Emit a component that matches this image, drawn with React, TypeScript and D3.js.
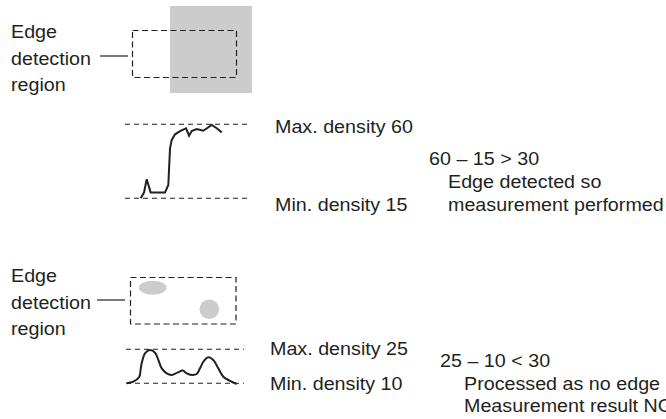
import React from "react";
import * as d3 from "d3";

// Top example: density profile across the edge (x in % of region width, density)
const topProfileX = [12.9, 15.6, 17.8, 21.0, 32.8, 35.5, 36.9, 38.3, 41.0, 45.1, 50.0, 52.5, 54.7, 58.8, 64.2, 71.1, 75.2, 79.3];
const topProfileD = [15, 18.6, 26.6, 18.6, 18.6, 23.1, 45.4, 50.5, 53.9, 55.9, 57.6, 53.1, 55.9, 57.1, 56.1, 59.6, 57.6, 55.1];
const topMin = 15;
const topMax = 60;

// Bottom example: density profile with smudges, no edge
const botProfileX = [0.6, 6.2, 11.3, 12.5, 13.3, 16.1, 20.3, 24.6, 27.4, 30.3, 34.5, 38.7, 43.5, 48.1, 51.4, 55.7, 59.9, 62.7, 65.5, 69.7, 74.0, 78.2, 82.5, 88.1, 93.8];
const botProfileD = [10.0, 10.7, 12.9, 16.6, 18.8, 23.2, 24.7, 23.5, 20.3, 16.6, 14.4, 13.7, 14.7, 15.6, 14.4, 13.7, 14.1, 16.6, 19.5, 21.5, 20.3, 16.6, 12.9, 11.1, 9.7];
const botMin = 10;
const botMax = 25;

const regionLabel = ["Edge", "detection", "region"];
const topTexts = {
  max: `Max. density ${topMax}`,
  min: `Min. density ${topMin}`,
  formula: "60 \u2013 15 > 30",
  note: ["Edge detected so", "measurement performed"],
};
const botTexts = {
  max: `Max. density ${botMax}`,
  min: `Min. density ${botMin}`,
  formula: "25 \u2013 10 < 30",
  note: ["Processed as no edge", "Measurement result NG"],
};

const FONT = "'Liberation Sans', Arial, Helvetica, sans-serif";
const TXT = "#231f20";
const FS = 18.5;
const SX = 1.065;

function T({ x, y, children }: { x: number; y: number; children: React.ReactNode }) {
  return (
    <text
      transform={`translate(${x},${y}) scale(${SX},1)`}
      fontFamily={FONT}
      fontSize={FS}
      fill={TXT}
    >
      {children}
    </text>
  );
}

export default function App() {
  // Top scales
  const tx = d3.scaleLinear().domain([0, 100]).range([125, 247]);
  const ty = d3.scaleLinear().domain([topMin, topMax]).range([198.3, 124.3]);
  const topLine = d3
    .line<number>()
    .x((_, i) => tx(topProfileX[i]))
    .y((d) => ty(d))
    .curve(d3.curveLinear)(topProfileD) as string;

  // Bottom scales
  const bx = d3.scaleLinear().domain([0, 100]).range([126, 244]);
  const by = d3.scaleLinear().domain([botMin, botMax]).range([383.3, 349.3]);
  const botLine = d3
    .line<number>()
    .x((_, i) => bx(botProfileX[i]))
    .y((d) => by(d))
    .curve(d3.curveCatmullRom.alpha(0.5))(botProfileD) as string;

  const labelLines = (baseY: number) =>
    regionLabel.map((s, i) => (
      <T key={s} x={11} y={baseY + i * 26.7}>
        {s}
      </T>
    ));

  return (
    <svg
      width={666}
      height={419}
      style={{ position: "absolute", left: 0, top: 0, background: "#fff" }}
    >
      <rect x={0} y={0} width={666} height={419} fill="#fff" />

      {/* ===== Top example ===== */}
      <rect x={170} y={6} width={82} height={87} fill="#cccccc" />
      <rect
        x={132.5}
        y={30.5}
        width={104}
        height={47}
        fill="none"
        stroke="#231f20"
        strokeWidth={1.2}
        strokeDasharray="6,3.5"
      />
      <line x1={100} y1={56} x2={128} y2={56} stroke="#231f20" strokeWidth={1.2} />
      {labelLines(38)}

      <line x1={tx(0)} x2={tx(100)} y1={ty(topMax)} y2={ty(topMax)} stroke="#231f20" strokeWidth={1.1} strokeDasharray="5,4" />
      <line x1={tx(0)} x2={tx(100)} y1={ty(topMin)} y2={ty(topMin)} stroke="#231f20" strokeWidth={1.1} strokeDasharray="5,4" />
      <path d={topLine} fill="none" stroke="#231f20" strokeWidth={2} strokeLinejoin="miter" />

      <T x={275} y={133}>{topTexts.max}</T>
      <T x={275} y={211}>{topTexts.min}</T>
      <T x={429} y={165}>{topTexts.formula}</T>
      <T x={448} y={188}>{topTexts.note[0]}</T>
      <T x={448} y={211}>{topTexts.note[1]}</T>

      {/* ===== Bottom example ===== */}
      <ellipse cx={152.7} cy={287.7} rx={13.8} ry={7} fill="#cccccc" />
      <circle cx={209.3} cy={309.3} r={9.8} fill="#cccccc" />
      <rect
        x={130.5}
        y={277.5}
        width={105.5}
        height={46.5}
        fill="none"
        stroke="#231f20"
        strokeWidth={1.2}
        strokeDasharray="6,3.5"
      />
      <line x1={97} y1={300} x2={125} y2={300} stroke="#231f20" strokeWidth={1.2} />
      {labelLines(282)}

      <line x1={bx(0)} x2={bx(100)} y1={by(botMax)} y2={by(botMax)} stroke="#231f20" strokeWidth={1.1} strokeDasharray="5,4" />
      <line x1={bx(0)} x2={bx(100)} y1={by(botMin)} y2={by(botMin)} stroke="#231f20" strokeWidth={1.1} strokeDasharray="5,4" />
      <path d={botLine} fill="none" stroke="#231f20" strokeWidth={2} />

      <T x={270} y={355}>{botTexts.max}</T>
      <T x={270} y={390}>{botTexts.min}</T>
      <T x={440} y={367}>{botTexts.formula}</T>
      <T x={464} y={390}>{botTexts.note[0]}</T>
      <T x={464} y={412}>{botTexts.note[1]}</T>
    </svg>
  );
}
